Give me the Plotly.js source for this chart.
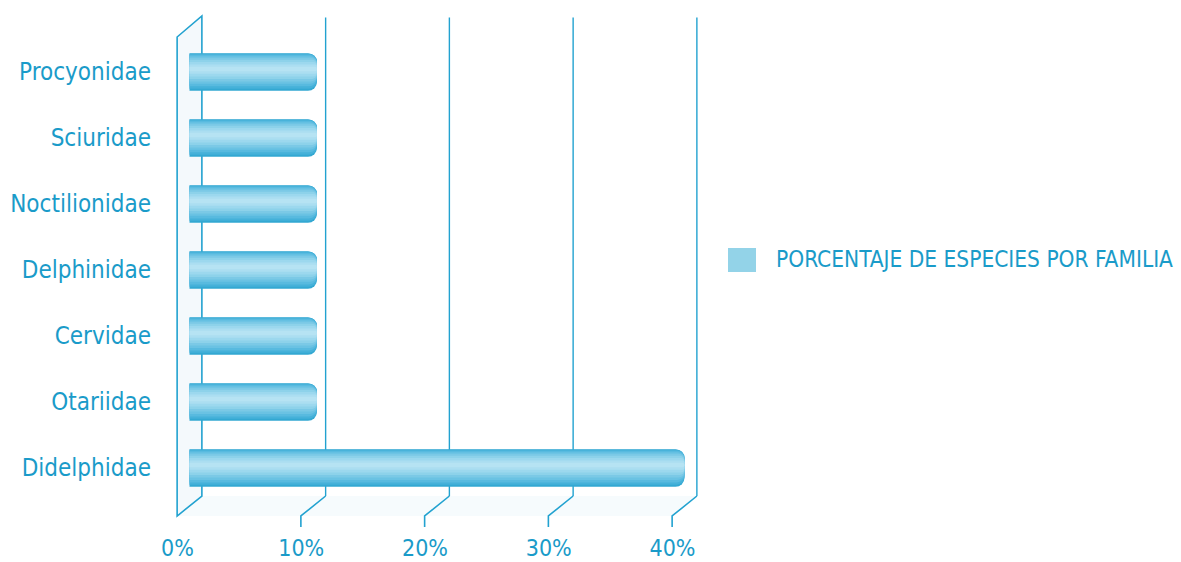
<!DOCTYPE html>
<html>
<head>
<meta charset="utf-8">
<script src="https://cdn.plot.ly/plotly-3.0.1.min.js"></script>
<style>
  html, body { margin: 0; padding: 0; background: #ffffff; }
  #chart { width: 1181px; height: 562px; }
</style>
</head>
<body>
<div id="chart"></div>
<script>
// ---- data ----
const categories = ['Didelphidae', 'Otariidae', 'Cervidae', 'Delphinidae', 'Noctilionidae', 'Sciuridae', 'Procyonidae'];
const percentages = [40, 10.3, 10.3, 10.3, 10.3, 10.3, 10.3];
const tickValues = [0, 10, 20, 30, 40];
const tickLabels = ['0%', '10%', '20%', '30%', '40%'];
const seriesName = 'PORCENTAJE DE ESPECIES POR FAMILIA';

// ---- style ----
const FONT = "'Liberation Sans Narrow', 'DejaVu Sans Condensed', sans-serif";
const TEXT = '#1a9bc9';
const LINE = '#22a2d0';
const DEPTH = 1.0;          // half depth of the pseudo-3D box in x units
const BACK_BOTTOM = 0.04;   // paper y of back floor edge

// cylinder-like bar made of overlaid layers (outer -> inner)
const layers = [
  { w: 0.57, shift: 0.000, color: '#33a8d2' },
  { w: 0.53, shift: 0.012, color: '#45b1d9' },
  { w: 0.48, shift: 0.022, color: '#58badf' },
  { w: 0.42, shift: 0.030, color: '#6ac2e3' },
  { w: 0.36, shift: 0.036, color: '#7bc9e6' },
  { w: 0.29, shift: 0.040, color: '#8dd2ea' },
  { w: 0.22, shift: 0.042, color: '#9cd8ee' },
  { w: 0.14, shift: 0.044, color: '#abdef1' },
  { w: 0.07, shift: 0.045, color: '#b6e3f3' }
];
const traces = layers.map((L, i) => ({
  type: 'bar',
  orientation: 'h',
  y: categories,
  x: percentages,
  width: L.w,
  offset: -L.w / 2 + L.shift,
  name: seriesName,
  showlegend: false,
  hoverinfo: i === 0 ? 'x+y' : 'skip',
  marker: { color: L.color, line: { width: 0 }, cornerradius: Math.max(2, Math.round(L.w * 16)) }
}));

// pseudo-3D frame shapes
const shapes = [];
// floor
shapes.push({
  type: 'path', xref: 'x', yref: 'paper', layer: 'below',
  path: `M ${-DEPTH},0 L ${DEPTH},${BACK_BOTTOM} L ${40 + DEPTH},${BACK_BOTTOM} L ${40 - DEPTH},0 Z`,
  fillcolor: '#f6fbfd', line: { width: 0 }
});
// left wall
shapes.push({
  type: 'path', xref: 'x', yref: 'paper', layer: 'below',
  path: `M ${-DEPTH},0 L ${-DEPTH},0.958 L ${DEPTH},1 L ${DEPTH},${BACK_BOTTOM} Z`,
  fillcolor: '#f4f9fc', line: { color: LINE, width: 1.6 }
});
// back grid lines and floor tick diagonals
tickValues.forEach(v => {
  if (v === 0) return;
  shapes.push({
    type: 'line', xref: 'x', yref: 'paper', layer: 'below',
    x0: v + DEPTH, x1: v + DEPTH, y0: BACK_BOTTOM, y1: 0.997,
    line: { color: LINE, width: 1.4 }
  });
  shapes.push({
    type: 'path', xref: 'x', yref: 'paper', layer: 'below',
    path: `M ${v + DEPTH},${BACK_BOTTOM} L ${v - DEPTH},0 L ${v - DEPTH},-0.022`,
    line: { color: LINE, width: 1.6 }
  });
});
// legend swatch
shapes.push({
  type: 'rect', xref: 'paper', yref: 'paper',
  x0: 1.0333, x1: 1.0852, y0: 0.488, y1: 0.536,
  fillcolor: '#93d3e8', line: { width: 0 }
});

const layout = {
  width: 1181, height: 562,
  margin: { l: 170, r: 471, t: 16, b: 46 },
  paper_bgcolor: '#ffffff', plot_bgcolor: 'rgba(0,0,0,0)',
  barmode: 'overlay',
  showlegend: false,
  font: { family: FONT, color: TEXT, size: 24 },
  xaxis: {
    range: [-1.576, 42.06],
    tickmode: 'array', tickvals: tickValues, ticktext: tickLabels,
    showgrid: false, zeroline: false, showline: false, ticks: '',
    ticklabelshift: -12, ticklabelstandoff: 16,
    tickfont: { family: FONT, color: TEXT, size: 23 },
    fixedrange: true
  },
  yaxis: {
    type: 'category', categoryorder: 'array', categoryarray: categories,
    range: [-0.727, 6.848],
    showgrid: false, zeroline: false, showline: false, ticks: '',
    ticklabelstandoff: 18,
    tickfont: { family: FONT, color: TEXT, size: 24 },
    fixedrange: true
  },
  shapes: shapes,
  annotations: [{
    xref: 'paper', yref: 'paper', x: 1.1185, y: 0.514,
    xanchor: 'left', yanchor: 'middle', showarrow: false,
    text: seriesName,
    font: { family: FONT, color: TEXT, size: 22.5 }
  }]
};

Plotly.newPlot('chart', traces, layout, { displayModeBar: false, staticPlot: true });
</script>
</body>
</html>
